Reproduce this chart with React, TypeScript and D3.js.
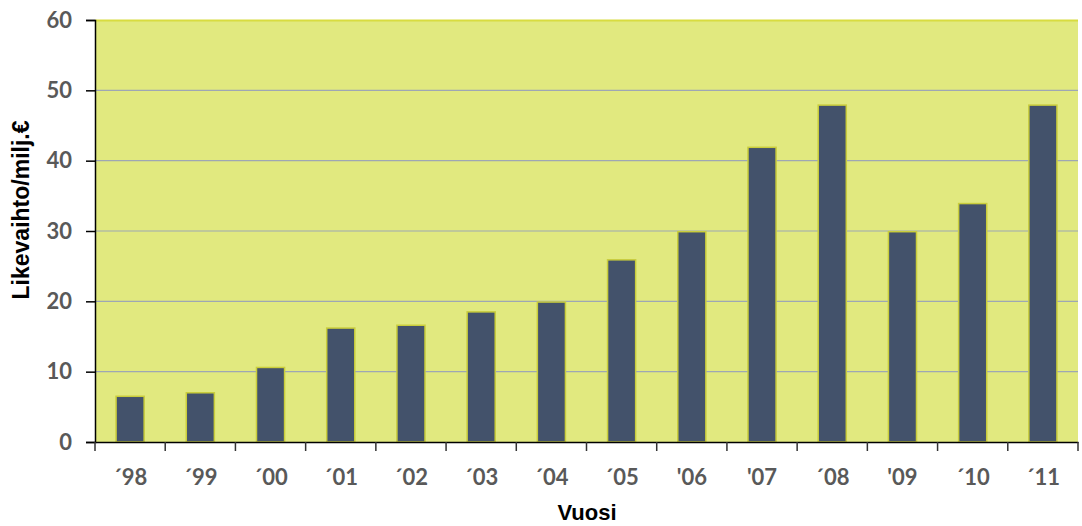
import React, { useRef, useEffect } from 'react';
import * as d3 from 'd3';

const years = ['´98', '´99', '´00', '´01', '´02', '´03', '´04', '´05', "'06", "'07", '´08', "'09", '´10', '´11'];
const turnover = [6.5, 7.0, 10.6, 16.2, 16.6, 18.5, 19.9, 25.9, 29.9, 41.9, 47.9, 29.9, 33.9, 47.9];
const yTicks = [0, 10, 20, 30, 40, 50, 60];

const App = () => {
  const ref = useRef<SVGSVGElement | null>(null);

  useEffect(() => {
    if (!ref.current) return;
    const svg = d3.select(ref.current);
    svg.selectAll('*').remove();

    const W = 1082;
    const H = 526;
    const left = 95, right = 1078, top = 20, bottom = 442;

    const x = d3.scaleBand().domain(years).range([left, right]).paddingInner(0.6).paddingOuter(0.3);
    const xb = d3.scaleBand().domain(years).range([left, right]);
    const y = d3.scaleLinear().domain([0, 60]).range([bottom, top]);

    svg.attr('width', W).attr('height', H);

    // plot background
    svg.append('rect')
      .attr('x', left).attr('y', top)
      .attr('width', right - left).attr('height', bottom - top)
      .attr('fill', '#e1e97f');

    // top border
    svg.append('line')
      .attr('x1', left).attr('x2', right).attr('y1', top + 0.5).attr('y2', top + 0.5)
      .attr('stroke', '#d8dc40').attr('stroke-width', 2);

    // gridlines
    svg.append('g').selectAll('line')
      .data(yTicks.filter(t => t > 0 && t < 60))
      .join('line')
      .attr('x1', left).attr('x2', right)
      .attr('y1', d => y(d)).attr('y2', d => y(d))
      .attr('stroke', '#9ea7b4').attr('stroke-width', 1.2);

    // bars
    svg.append('g').selectAll('rect')
      .data(turnover)
      .join('rect')
      .attr('x', (d, i) => x(years[i])!)
      .attr('y', d => y(d))
      .attr('width', x.bandwidth())
      .attr('height', d => bottom - y(d))
      .attr('fill', '#43526b')
      .attr('stroke', '#c9cd3c')
      .attr('stroke-width', 1.5);

    const tickFont = 'Lato, "Open Sans", sans-serif';

    // y axis
    const yAxis = svg.append('g')
      .attr('transform', `translate(${left},0)`)
      .call(d3.axisLeft(y).tickValues(yTicks).tickSize(9).tickPadding(14).tickFormat(d3.format('d')));
    yAxis.select('.domain').attr('stroke', '#000').attr('stroke-width', 1.5);
    yAxis.selectAll('.tick line').attr('stroke', '#000').attr('stroke-width', 1.5);
    yAxis.selectAll('.tick text')
      .attr('fill', '#595959')
      .style('font-family', tickFont)
      .style('font-weight', 'bold')
      .style('font-size', '22px');

    // x axis with ticks at category boundaries
    const xAxis = svg.append('g')
      .attr('transform', `translate(0,${bottom})`)
      .call(d3.axisBottom(xb).tickSize(0));
    xAxis.select('.domain').attr('stroke', '#000').attr('stroke-width', 1.5);
    xAxis.selectAll('.tick text')
      .attr('y', 43)
      .attr('dy', 0)
      .attr('fill', '#595959')
      .style('font-family', tickFont)
      .style('font-weight', 'bold')
      .style('font-size', '22px');

    const bounds = years.map(yr => xb(yr)!).concat([right]);
    svg.append('g').selectAll('line')
      .data(bounds)
      .join('line')
      .attr('x1', d => d).attr('x2', d => d)
      .attr('y1', bottom).attr('y2', bottom + 9)
      .attr('stroke', '#333').attr('stroke-width', 1.5);

    // axis titles
    svg.append('text')
      .attr('x', 587)
      .attr('y', 520)
      .attr('text-anchor', 'middle')
      .style('font-family', '"Liberation Sans", Arial, sans-serif')
      .style('font-weight', 'bold')
      .style('font-size', '22px')
      .text('Vuosi');

    svg.append('text')
      .attr('transform', `translate(29,210) rotate(-90)`)
      .attr('text-anchor', 'middle')
      .style('font-family', '"Liberation Sans", Arial, sans-serif')
      .style('font-weight', 'bold')
      .style('font-size', '23px')
      .text('Likevaihto/milj.€');
  }, []);

  return <svg ref={ref} style={{ position: 'absolute', left: 0, top: 0 }} />;
};

export default App;
